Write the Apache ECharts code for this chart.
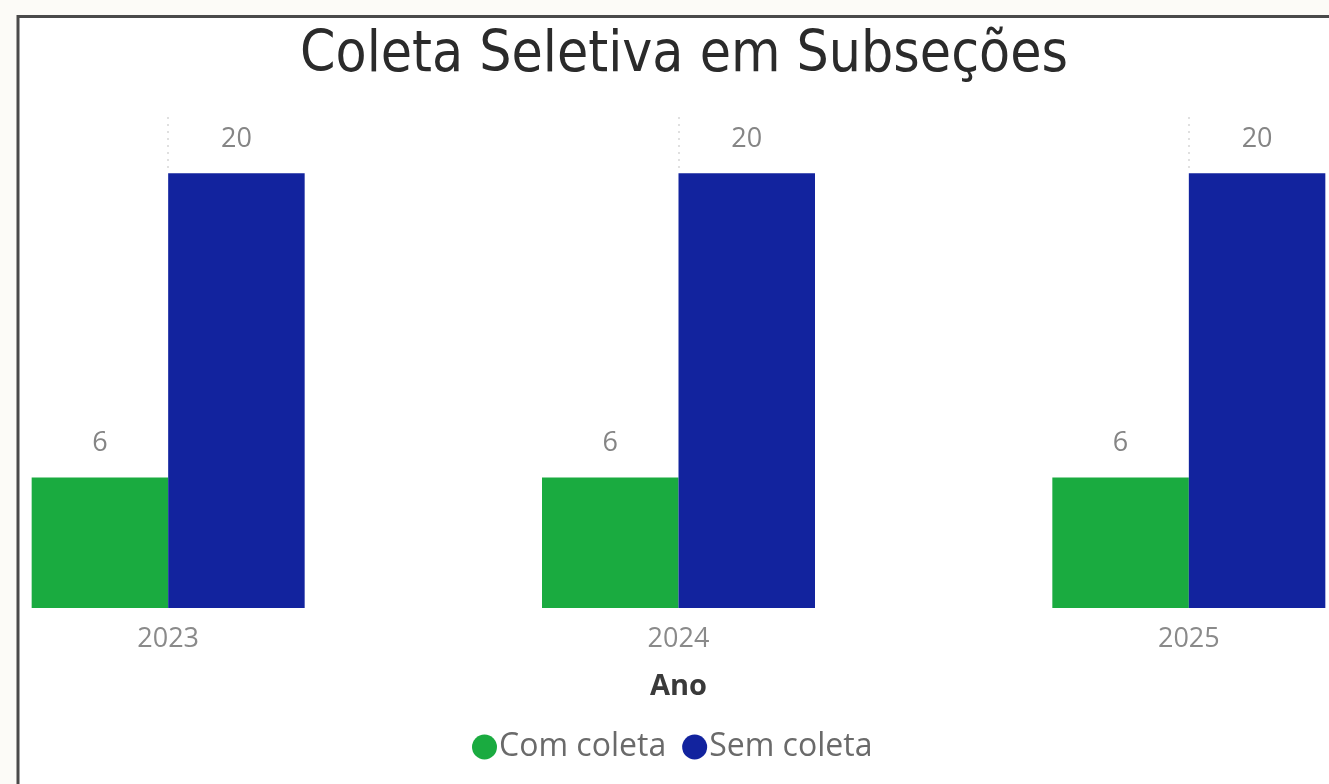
<!DOCTYPE html>
<html>
<head>
<meta charset="utf-8">
<script src="https://cdn.jsdelivr.net/npm/echarts@6/dist/echarts.min.js"></script>
<style>
html,body{margin:0;padding:0;background:#fcfbf7;overflow:hidden;width:1329px;height:784px;}
#c{position:absolute;left:-87px;top:0;width:1531px;height:784px;}
</style>
</head>
<body>
<div id="c"></div>
<script>
var categories = ['2023', '2024', '2025'];
var seriesNames = ['Com coleta', 'Sem coleta'];
var comColeta = [6, 6, 6];
var semColeta = [20, 20, 20];
var titleText = 'Coleta Seletiva em Subseções';
var axisTitle = 'Ano';

var OX = 87; // container offset
var chart = echarts.init(document.getElementById('c'));
var labelStyle = {
  show: true, position: 'top', distance: 20,
  color: '#858585', fontFamily: 'Open Sans', fontSize: 27, lineHeight: 28
};
chart.setOption({
  animation: false,
  backgroundColor: 'transparent',
  graphic: [{
    type: 'rect', z: -10, silent: true,
    shape: {x: 18 + OX, y: 16.5, width: 2000, height: 2000},
    style: {fill: '#ffffff', stroke: '#4a4a4a', lineWidth: 3}
  }],
  title: {
    text: titleText, left: 679 + OX, top: 23, textAlign: 'center',
    textStyle: {fontFamily: 'DejaVu Sans Condensed', fontWeight: 'normal', fontSize: 56.5, color: '#2b2b2b'}
  },
  legend: {
    data: seriesNames, left: 467 + OX, top: 726, icon: 'circle',
    itemWidth: 25, itemHeight: 25, itemGap: 16,
    textStyle: {fontFamily: 'Open Sans', fontSize: 32, color: '#6a6a6a', padding: [0, 0, 0, -3]}
  },
  grid: {left: 0, right: 0, top: 86.4, bottom: 176, containLabel: false},
  xAxis: {
    type: 'category', data: categories,
    axisLine: {show: false}, axisTick: {show: false},
    axisLabel: {color: '#8a8a8a', fontFamily: 'Open Sans', fontSize: 27, lineHeight: 28, margin: 17},
    name: axisTitle, nameLocation: 'middle', nameGap: 64,
    nameTextStyle: {fontFamily: 'Open Sans', fontWeight: 'bold', fontSize: 29, color: '#3a3a3a'}
  },
  yAxis: {
    type: 'value', min: 0, max: 24, show: false, splitLine: {show: false}
  },
  series: [{
    name: seriesNames[0], type: 'bar', data: comColeta,
    barWidth: 136.5, barGap: '0%',
    itemStyle: {color: '#1aab40'}, label: labelStyle
  }, {
    name: seriesNames[1], type: 'bar', data: semColeta,
    barWidth: 136.5,
    itemStyle: {color: '#12239e'}, label: labelStyle
  }, {
    name: 'guides', type: 'line', data: [], silent: true,
    markLine: {
      silent: true, symbol: 'none', label: {show: false},
      lineStyle: {color: '#d6d6d6', type: [2, 5], width: 1.5},
      data: categories.map(function (c) { return [{coord: [c, 20.25]}, {coord: [c, 22.7]}]; })
    }
  }]
});
</script>
</body>
</html>
